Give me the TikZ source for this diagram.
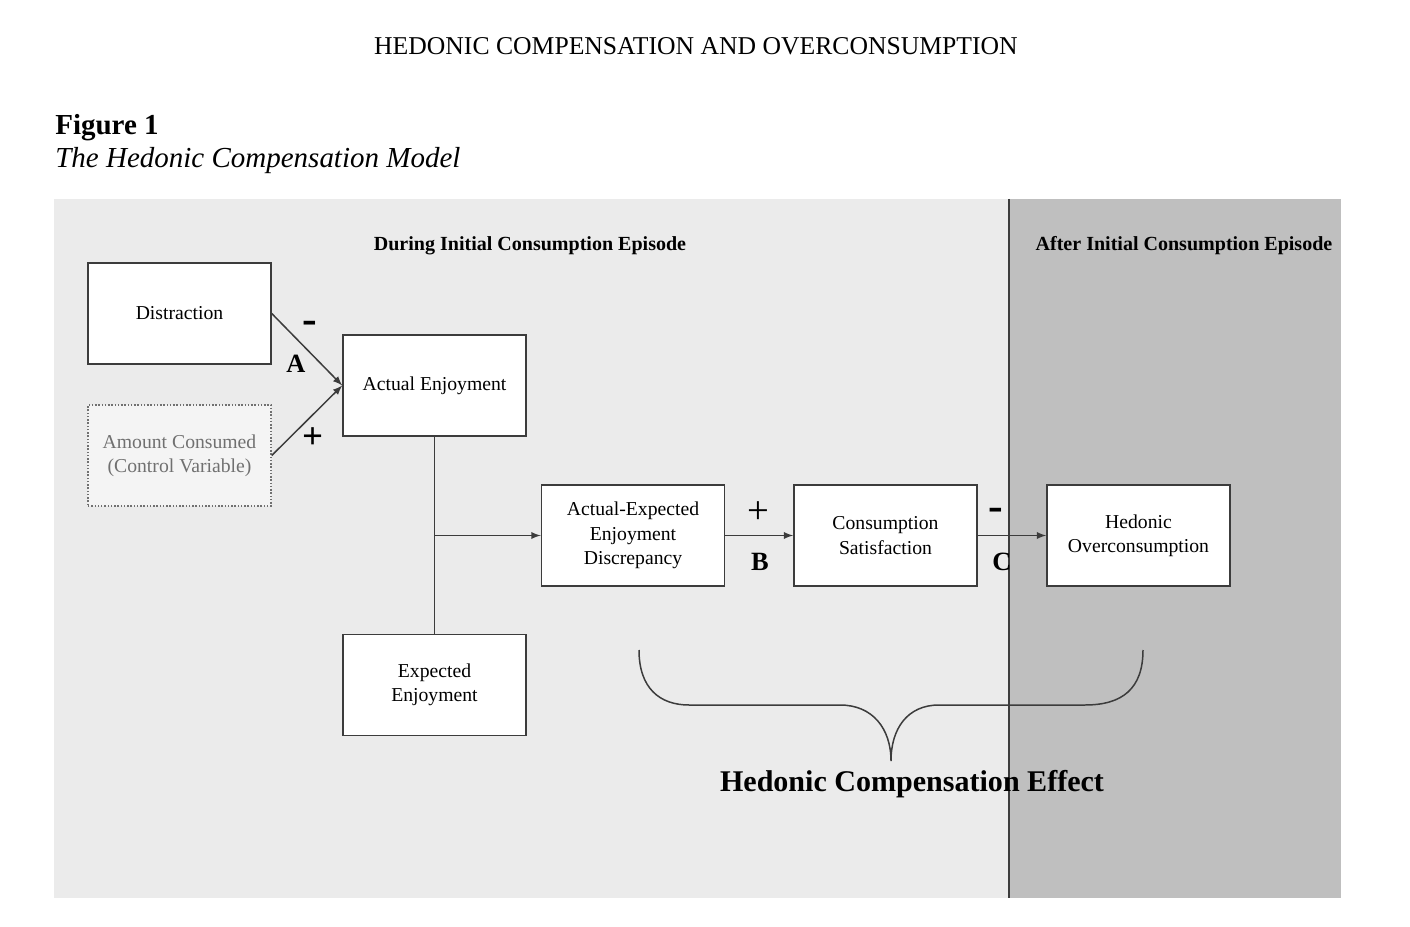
\documentclass[tikz,border=0pt]{standalone}
\usepackage{fontspec}
\setmainfont{Liberation Serif}
\usepackage{xcolor}
\usetikzlibrary{arrows}
\usetikzlibrary{positioning}

\definecolor{bgleft}{HTML}{EBEBEB}
\definecolor{bgright}{HTML}{BFBFBF}
\definecolor{boxline}{HTML}{3C3C3C}
\definecolor{ctrlfill}{HTML}{F4F4F4}
\definecolor{ctrltext}{HTML}{707070}

\begin{document}
\begin{tikzpicture}[]
	%\draw[help lines] (0,0) grid (28,18);
	\useasboundingbox (0,0) rectangle (28.2,18.52);

	\tikzstyle{vnode} = [rectangle,draw=boxline,line width=0.85pt,fill=white,minimum width=3.66cm,minimum height=2.02cm,inner sep=0pt,align=center,font=\fontsize{11.2}{13.9}\selectfont]
	\tikzstyle{cnode} = [vnode,draw=ctrltext,densely dotted,fill=ctrlfill,text=ctrltext]
	\tikzstyle{hnode} = [inner sep=0pt,anchor=base,font=\bfseries\fontsize{11.4}{12}\selectfont]
	\tikzstyle{lnode} = [inner sep=0pt,font=\bfseries\fontsize{15}{15}\selectfont]
	\tikzstyle{mnode} = [inner sep=0pt,font=\bfseries\fontsize{25}{25}\selectfont]
	\tikzstyle{vedge} = [->,>=latex,line width=0.85pt,draw=boxline]

	% background panels
	\fill[bgleft] (1.08,0.56) rectangle (20.2,14.54);
	\fill[bgright] (20.2,0.56) rectangle (26.82,14.54);
	\coordinate (splittop) at (20.18,14.54);
	\coordinate (splitbot) at (20.18,0.56);
	\draw[boxline,line width=0.6pt] (splittop) -- (splitbot);

	% titles
	\node[inner sep=0pt,font=\fontsize{14.6}{16}\selectfont] (head) at (13.92,17.6) {HEDONIC COMPENSATION AND OVERCONSUMPTION};
	\node[inner sep=0pt,anchor=base west,font=\bfseries\fontsize{16.5}{18}\selectfont] (fig) at (1.1,15.82) {Figure 1};
	\node[inner sep=0pt,anchor=base west,font=\itshape\fontsize{16.5}{18}\selectfont] (figtitle) at (1.1,15.16) {The Hedonic Compensation Model};

	\node[hnode] (during) at (10.6,13.5) {During Initial Consumption Episode};
	\node[hnode] (after) at (23.68,13.5) {After Initial Consumption Episode};

	% boxes
	\node[vnode] (dist) at (3.59,12.25) {Distraction};
	\node[cnode] (amount) at (3.59,9.41) {Amount Consumed\\(Control Variable)};
	\node[vnode] (actual) at (8.69,10.81) {Actual Enjoyment};
	\node[vnode] (expected) at (8.69,4.82) {Expected\\Enjoyment};
	\node[vnode] (discr) at (12.66,7.81) {Actual-Expected\\Enjoyment\\Discrepancy};
	\node[vnode] (satis) at (17.71,7.81) {Consumption\\Satisfaction};
	\node[vnode] (overc) at (22.77,7.81) {Hedonic\\Overconsumption};

	% path labels
	\node[mnode] (mA) at (6.2,11.98) {-};
	\node[lnode] (A) at (5.92,11.24) {A};
	\node[inner sep=0pt,font=\bfseries\fontsize{21}{21}\selectfont] (pA) at (6.26,9.76) {+};
	\node[inner sep=0pt,font=\fontsize{22}{22}\selectfont] (pB) at (15.16,8.26) {+};
	\node[lnode] (B) at (15.2,7.28) {B};
	\node[mnode] (mC) at (19.92,8.24) {-};
	\node[lnode] (C) at (20.04,7.28) {C};

	% connectors
	\coordinate (j) at (actual.south |- discr.west);
	\draw[boxline,line width=0.85pt] (actual) -- (expected);
	\draw (dist.east) edge [vedge] (actual.west);
	\draw (amount.east) edge [vedge] (actual.west);
	\draw (j) edge [vedge] (discr);
	\draw (discr) edge [vedge] (satis);
	\draw (satis) edge [vedge] (overc);

	% brace
	\coordinate (bl) at (12.78,5.52);
	\coordinate (btip) at (17.82,3.3);
	\coordinate (br) at (22.86,5.52);
	\draw[boxline,line width=0.85pt] (bl) .. controls (12.78,4.75) and (13.2,4.42) .. (13.78,4.42)
		-- (16.8,4.42) .. controls (17.45,4.42) and (17.82,3.95) .. (btip)
		.. controls (17.82,3.95) and (18.15,4.42) .. (18.78,4.42)
		-- (21.7,4.42) .. controls (22.45,4.42) and (22.86,4.75) .. (br);
	\node[inner sep=0pt,font=\bfseries\fontsize{17.1}{18}\selectfont] (effect) at (18.24,2.84) {Hedonic Compensation Effect};

\end{tikzpicture}
\end{document}
